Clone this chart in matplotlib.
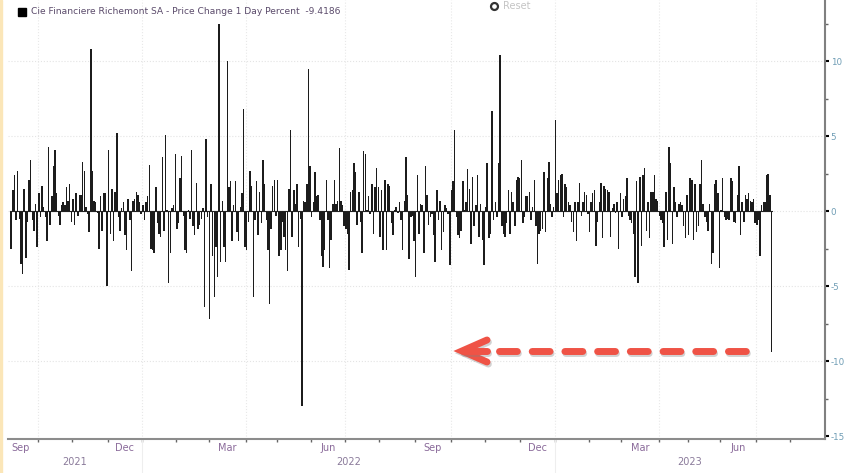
import numpy as np
import pandas as pd
import matplotlib
matplotlib.use('Agg')
import matplotlib.pyplot as plt
import matplotlib.patheffects as pe
from matplotlib.patches import Rectangle

plt.rcParams['axes.unicode_minus'] = False

# daily % change (trading days, oldest first)
chg_sep21_feb22 = [
    -2.5, 1.4, 2.4, -0.6, 2.7, -0.5, -3.5, -4.2, 1.5, -3.1,
    -0.7, 2.1, 3.4, -0.6, -1.3, 0.5, -2.4, 1.2, -0.4, 1.7, 0.3,
    -0.4, -2.0, 4.3, -0.9, 1.0, 3.0, 4.1, 1.2, -0.3, -0.9, 0.4,
    0.6, 0.4, 1.6, 0.7, 1.8, -0.7, 0.8, -0.9, 1.2, -0.3,
    1.1, 1.1, 3.3, 2.7, 0.3, -0.2, -1.4, 10.8, 2.7, 0.7, 0.6,
    -0.1, -2.5, 1.0, -1.3, 1.2, 1.2, -5.0, 4.1, -1.5, 1.5,
    -2.0, 1.3, 5.2, -0.4, -1.3, 0.2, 0.6, -1.6, -2.6, 0.8, -0.6,
    -4.0, 0.7, 0.8, 1.3, 1.1, 0.6, -0.2, 0.4, -0.6, 0.6, 1.0,
    3.1, -2.5, -2.6, -2.8, 1.6, -0.8, -1.5, -1.7, 3.6, -1.3,
    5.1, 0.1, -4.8, -2.8, 0.2, 0.4, 3.8, -1.2, -0.8, 2.2, 3.7,
    -0.3, -2.6, -2.8, 0.1, -0.5, 4.1, -1.0, -1.6]
chg_feb22_aug22 = [
    1.9, -1.2, -0.9, -0.5, 0.2, -6.4, 4.8, -0.4, -7.2, 1.8,
    -3.0, -5.7, -2.4, -4.4, 12.5, -3.4, 0.7, -2.4, -3.4, 10.0,
    1.6, 2.0, -2.0, 0.4, 2.0, -1.4, -2.0, 0.3, 1.2, 6.8, -2.4,
    -2.6, -0.7, 2.7, 1.7, -5.7, -0.6, 2.0, -1.6, 1.3, -0.8,
    3.4, 1.8, -0.6, -2.6, -6.2, -1.2, 1.7, 2.1, -0.3, 2.1, -3.0,
    -2.6, -0.7, -1.7, -2.6, -4.0, 1.5, 5.4, -1.7, 1.4, 0.5,
    1.8, -2.4, -0.5, -13.0, 0.7, 0.6, 1.8, 9.5, 3.0, -0.4,
    0.6, 2.6, 1.0, 1.1, -0.6, -3.0, -3.7, -2.6, 2.1, -0.6,
    -3.8, -1.9, 0.5, 2.1, 0.5, 0.7, 4.2, 0.7, 0.4, -1.0,
    -1.2, -1.5, -3.9, 1.3, 1.4, 3.2, 2.6, -0.9, 1.3, -0.7,
    -2.8, 4.0, 3.8, 0.1, 1.0, -0.2, 1.8, -1.5, 1.6, 2.9,
    1.6, -1.7, 1.4, -2.6, 2.1, -2.6, 1.8]
chg_aug22_jan23 = [
    1.7, -0.8, -1.6, 0.1, 0.3, -0.1, 0.6, -0.6, -2.6, 0.7, 3.6,
    1.1, -3.2, -0.4, -0.3, -2.0, -4.4, 2.4, -1.5, 0.5, 0.4,
    -2.8, 3.0, 1.1, -0.9, -0.4, -0.2, -1.6, -3.4, 1.4, -0.6, 0.7,
    -2.6, -1.4, 0.4, 0.2, -0.2, -3.6, 1.4, 2.0, 5.4, -0.4,
    -1.6, -1.8, -1.3, 2.0, 0.1, 0.6, 2.8, 1.5, -2.2, 2.3,
    -1.0, 0.4, 2.4, -1.7, 0.5, -1.9, -3.6, 0.3, 3.2, -1.8, -1.5,
    6.7, -0.6, 0.6, -0.4, 3.2, 10.4, -1.0, -1.5, -1.7, -0.8,
    1.4, -1.5, 1.3, 0.6, -1.0, 2.1, 2.3, 2.2, 3.4, -0.8,
    -0.4, 1.0, 1.0, 1.3, -0.6, 0.3, 2.1, -1.0, -3.5, -1.5,
    -1.3, -1.2, 2.6, -1.4, 2.2, 3.3, 0.5, -0.4, 0.3, 6.1, 1.2,
    2.1, 2.4, 2.5, -0.4, 1.8, 1.6, 0.6, 0.4, -0.7, -1.4,
    0.6, -2.0, 0.6, 1.9]
chg_jan23_jul23 = [
    -0.3, 0.6, 1.3, 1.1, -0.2, -1.4, 0.6, 1.2, 1.4, -2.3,
    -0.7, 0.6, 1.9, -1.8, 1.7, 1.5, 1.4, 1.3, -1.7, 0.2,
    0.5, -0.1, 0.6, -2.5, 1.2, -0.4, 0.8, 1.0, 2.2, -0.3,
    -0.6, -0.8, -1.5, -4.4, 2.0, -4.8, 2.3, -2.3, 2.4, 2.9,
    -1.3, 0.6, -1.8, 1.3, 1.3, 2.4, 0.8, 0.7, -0.3, -0.6,
    -0.8, -2.4, 1.3, -1.9, 4.3, 3.2, -2.2, 1.6, 0.6, -0.4, 0.5,
    0.6, 0.4, -1.0, -1.8, 1.1, -1.6, 2.2, 2.1, -1.9, 1.8,
    -1.4, -1.0, 1.8, 3.4, 0.5, -0.4, -0.7, -1.3, 0.5, -3.5,
    -2.8, 1.8, 2.1, 1.2, -3.8, 0.1, 2.2, -0.4, -0.6, -0.5,
    -0.6, 2.2, 2.0, -0.7, -0.8, 1.1, 3.0, -1.6, 0.6, -0.7,
    1.1, 0.8, 1.2, 0.7, 0.6, 0.8, -0.8, -0.9, -0.6, -3.0,
    0.4, 0.6, 0.6, 2.4, 2.5, 1.1, -9.4186]

chg = np.array(chg_sep21_feb22 + chg_feb22_aug22 + chg_aug22_jan23 + chg_jan23_jul23)

# SIX exchange closures in the window
holidays = ['2021-12-24', '2021-12-31', '2022-04-15', '2022-04-18', '2022-05-26',
            '2022-06-06', '2022-08-01', '2022-12-26', '2023-01-02', '2023-04-07',
            '2023-04-10', '2023-05-01', '2023-05-18', '2023-05-29', '2023-08-01']
last_day = '2023-07-14'
month_names = {9: 'Sep', 12: 'Dec', 3: 'Mar', 6: 'Jun'}

days = pd.bdate_range('2021-09-01', '2023-08-31', freq='C', holidays=holidays)
i_last = days.get_loc(pd.Timestamp(last_day))
x = np.arange(i_last - len(chg) + 1, i_last + 1)

# month boundaries on a trading-day axis (like the terminal does)
ms = [i for i in range(len(days)) if i == 0 or days[i].month != days[i - 1].month]
bounds = [m - 0.5 for m in ms] + [len(days) - 0.5]

W, H = 848, 473
fig = plt.figure(figsize=(W / 100, H / 100), dpi=100)
L, R, B, T = 8, 825, 439, 0
ax = fig.add_axes([L / W, (H - B) / H, (R - L) / W, (B - T) / H])

# x limits from where Oct-21 and Jul-23 ticks sit in the picture
i_oct = [m for m in ms if days[m] >= pd.Timestamp('2021-10-01')][0] - 0.5
i_jul = [m for m in ms if days[m] >= pd.Timestamp('2023-07-01')][0] - 0.5
ppd = (756 - 38) / (i_jul - i_oct)
x0 = i_oct - (38 - L) / ppd
x1 = i_jul + (R - 756) / ppd
ax.set_xlim(x0, x1)
ax.set_ylim(-15.2, 14.07)

# grid
for m in ms:
    if days[m].month in (1, 4, 7, 10):
        ax.axvline(m - 0.5, color='#e8e8e8', lw=0.8, ls=':', zorder=0)
for yv in [-10, -5, 0, 5, 10]:
    ax.axhline(yv, color='#e4e4e4', lw=0.8, ls=':', zorder=0)

ax.bar(x, chg, width=0.9, color='#1c1c1c', linewidth=0, zorder=2)
ax.plot([x[0] - 0.5, x[-1] + 0.5], [0, 0], color='#222222', lw=0.8, zorder=3)

for s in ['top', 'left']:
    ax.spines[s].set_visible(False)
ax.spines['right'].set_color('#808080')
ax.spines['right'].set_linewidth(1.5)
ax.spines['bottom'].set_color('#8c8c8c')
ax.spines['bottom'].set_linewidth(1.5)

ax.yaxis.tick_right()
ax.set_yticks([-15, -10, -5, 0, 5, 10])
ax.set_yticks([-12.5, -7.5, -2.5, 2.5, 7.5, 12.5], minor=True)
ax.tick_params(axis='y', which='major', length=3, width=1.5, color='black',
               labelcolor='#6f9db5', labelsize=6.3, pad=1)
ax.tick_params(axis='y', which='minor', length=2, width=1, color='#666666')

ax.set_xticks([b for b in bounds[1:-1] if x0 < b < x1])
ax.set_xticklabels([])
ax.tick_params(axis='x', length=2, width=1, color='#666666')

xt = ax.get_xaxis_transform()
for k, m in enumerate(ms):
    mon = days[m].month
    if mon in month_names:
        cx = max((bounds[k] + bounds[k + 1]) / 2, x0 + 5)
        ax.text(cx, -0.0205, month_names[mon], transform=xt, ha='center', va='center',
                fontsize=7, color='#8a6a9a')
jan = [m - 0.5 for m in ms if days[m].month == 1]
yr_spans = [(2021, x0, jan[0]), (2022, jan[0], jan[1]), (2023, jan[1], x1)]
for yr, a, b in yr_spans:
    ax.text((a + b) / 2, -0.052, str(yr), transform=xt, ha='center', va='center',
            fontsize=7, color='#8a7a9a')
for j in jan:
    ax.plot([j, j], [0, -0.08], transform=xt, clip_on=False, color='#eeeeee', lw=0.8)

# legend / header
fig.add_artist(Rectangle((18 / W, 1 - 16 / H), 8 / W, 8 / H, color='black',
                         transform=fig.transFigure))
fig.text(31 / W, 1 - 12 / H, 'Cie Financiere Richemont SA - Price Change 1 Day Percent  -9.4186',
         fontsize=6.6, color='#5b4b6b', va='center')
fig.add_artist(plt.Line2D([494 / W], [1 - 6 / H], marker='o', ms=5, mfc='white',
                          mec='#333333', mew=1.6, transform=fig.transFigure))
fig.text(503 / W, 1 - 6 / H, 'Reset', fontsize=7, color='#c4c4c4', va='center')
fig.add_artist(Rectangle((0, 0), 2 / W, 1, color='#fbe6b8', transform=fig.transFigure))

# red dashed arrow pointing left
def af(px, py):
    return (px - L) / (R - L), (B - py) / (B - T)

red = '#ef5346'
shadow = [pe.SimpleLineShadow(offset=(1, -1.5), shadow_color='gray', alpha=0.35), pe.Normal()]
p1, p2 = af(498.5, 351), af(747, 351)
ax.plot([p1[0], p2[0]], [p1[1], p2[1]], transform=ax.transAxes, color=red, lw=5,
        linestyle=(0, (2.57, 2.14)), dash_capstyle='round', path_effects=shadow, zorder=5)
hx = [af(487, 340), af(462, 351), af(487, 362)]
ax.plot([p[0] for p in hx], [p[1] for p in hx], transform=ax.transAxes, color=red, lw=5,
        solid_capstyle='round', solid_joinstyle='miter', path_effects=shadow, zorder=5)
st = [af(463, 351), af(487, 351)]
ax.plot([p[0] for p in st], [p[1] for p in st], transform=ax.transAxes, color=red, lw=5,
        solid_capstyle='round', path_effects=shadow, zorder=5)

fig.savefig('out.png', dpi=100)
